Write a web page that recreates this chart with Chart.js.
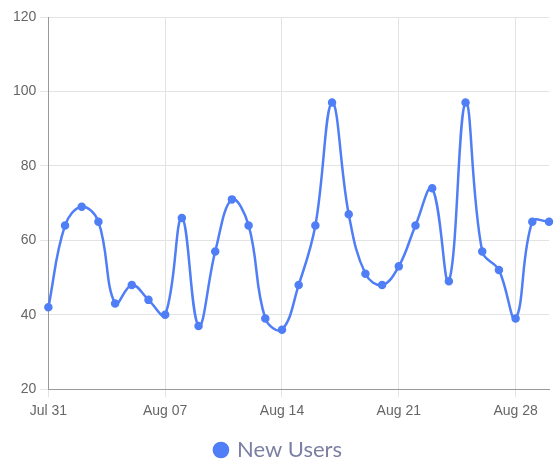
<!DOCTYPE html>
<html>
<head>
<meta charset="utf-8">
<script src="https://cdn.jsdelivr.net/npm/chart.js@4"></script>
<style>
  html, body { margin: 0; padding: 0; background: #fff; }
  #wrap { width: 556px; height: 462px; }
</style>
</head>
<body>
<div id="wrap"><canvas id="usersChart"></canvas></div>
<script>
// Data
const days = ['Jul 31','Aug 01','Aug 02','Aug 03','Aug 04','Aug 05','Aug 06','Aug 07','Aug 08','Aug 09',
  'Aug 10','Aug 11','Aug 12','Aug 13','Aug 14','Aug 15','Aug 16','Aug 17','Aug 18','Aug 19','Aug 20',
  'Aug 21','Aug 22','Aug 23','Aug 24','Aug 25','Aug 26','Aug 27','Aug 28','Aug 29','Aug 30'];
const newUsers = [42,64,69,65,43,48,44,40,66,37,57,71,64,39,36,48,64,97,67,51,48,53,64,74,49,97,57,52,39,65,65];
const yTicks = [20,40,60,80,100,120];

const tickFont = {family: 'Liberation Sans', size: 14};

const ctx = document.getElementById('usersChart').getContext('2d');
new Chart(ctx, {
  type: 'line',
  data: {
    labels: days,
    datasets: [{
      label: 'New Users',
      data: newUsers,
      borderColor: '#4f7ef6',
      backgroundColor: '#4f7ef6',
      borderWidth: 2.5,
      pointRadius: 3,
      pointBackgroundColor: '#4f7ef6',
      tension: 0.4,
      fill: false
    }]
  },
  options: {
    responsive: true,
    maintainAspectRatio: false,
    animation: false,
    layout: {padding: {left: 9, right: 7, top: 17, bottom: -9}},
    scales: {
      x: {
        offset: false,
        grid: {color: '#e3e3e3', tickLength: 8},
        border: {color: '#999'},
        ticks: {
          autoSkip: false,
          maxRotation: 0,
          padding: 6,
          color: '#666',
          font: tickFont,
          callback: (v, i) => (i % 7 === 0 ? days[i] : null)
        },
        afterFit: (scale) => { scale.height += 11; }
      },
      y: {
        min: yTicks[0],
        max: yTicks[yTicks.length - 1],
        grid: {color: '#e3e3e3', tickLength: 8},
        border: {color: '#999'},
        ticks: {stepSize: 20, padding: 4, color: '#666', font: tickFont}
      }
    },
    plugins: {
      legend: {
        position: 'bottom',
        labels: {
          usePointStyle: true,
          pointStyle: 'circle',
          boxWidth: 10,
          boxHeight: 10,
          padding: 2,
          color: '#7b80a3',
          font: {family: 'Lato', size: 22, lineHeight: 1}
        }
      },
      tooltip: {enabled: false}
    }
  }
});
</script>
</body>
</html>
